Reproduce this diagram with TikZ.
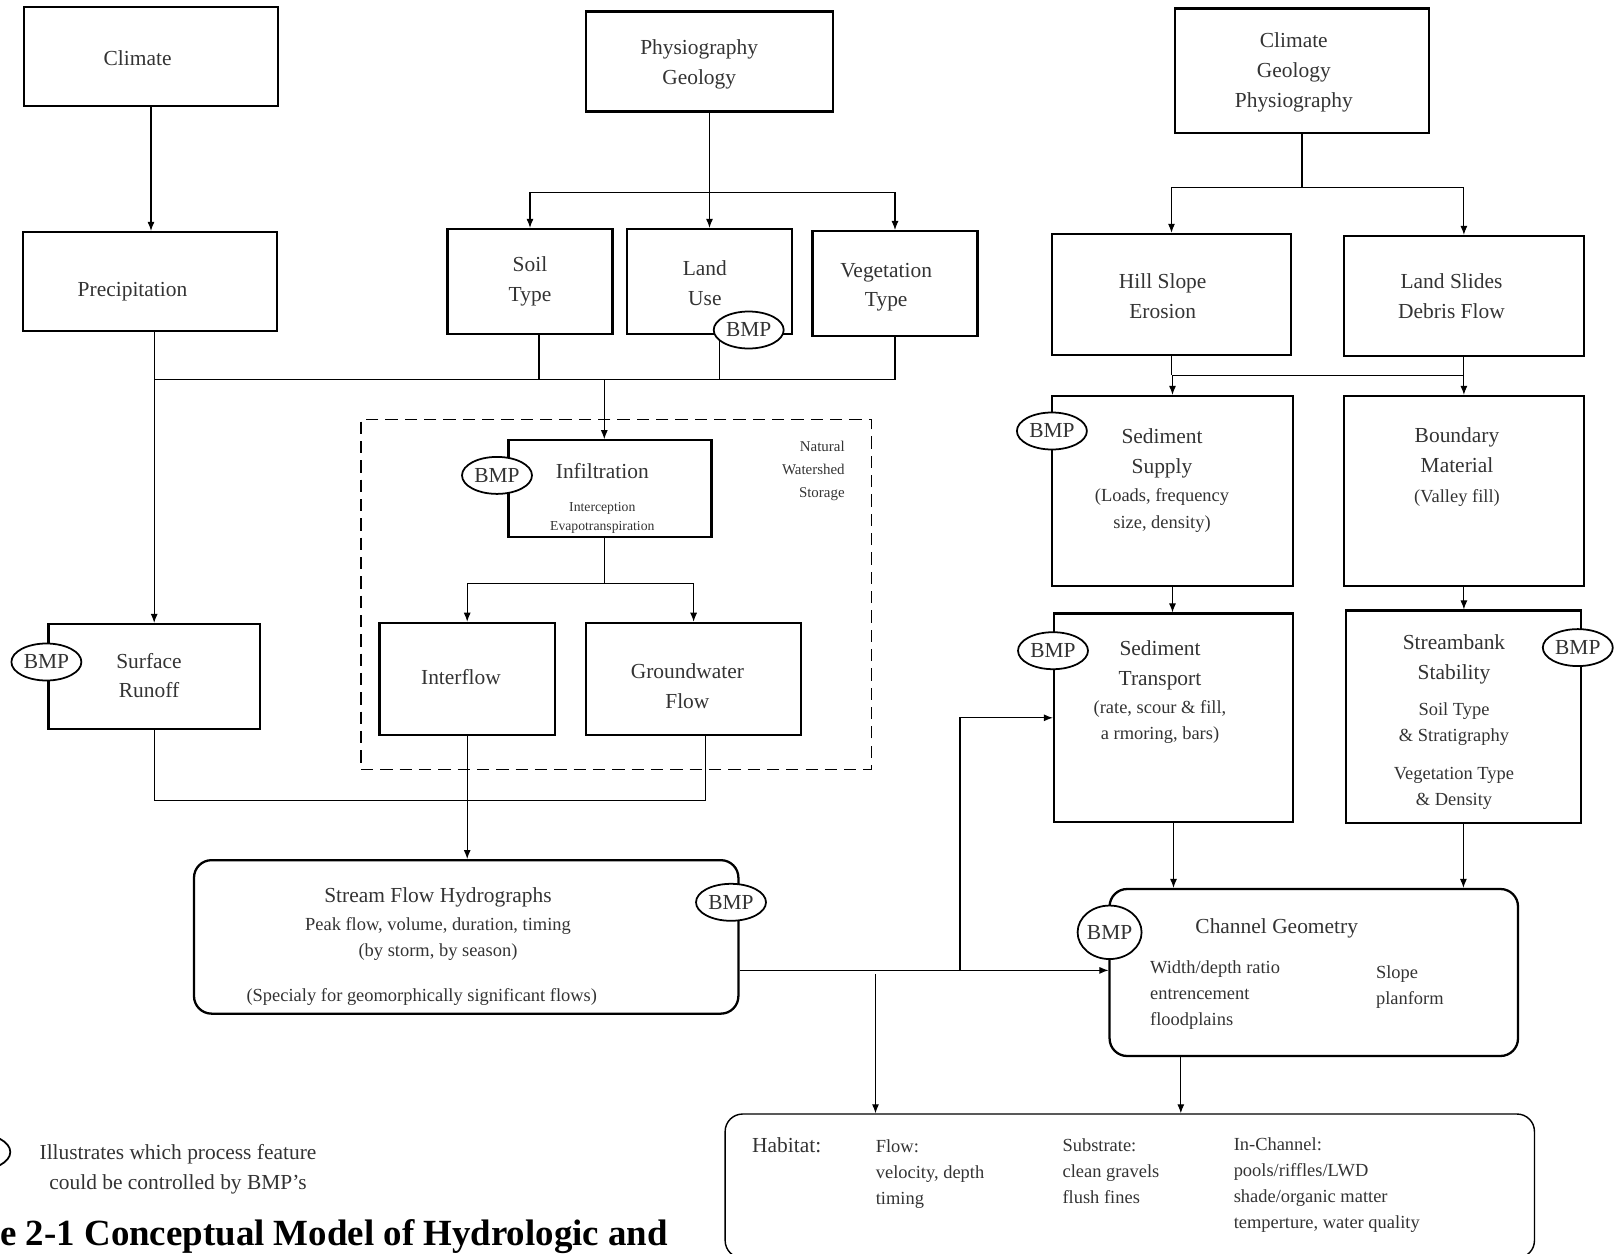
\documentclass[tikz,border=0pt]{standalone}
\usepackage{fontspec}
\setmainfont{Liberation Serif}
\usetikzlibrary{arrows.meta, shapes.geometric}
\newcommand{\mainfs}{\fontsize{12.2}{17}\selectfont}
\newcommand{\subfs}{\fontsize{10.5}{14.8}\selectfont}
\newcommand{\smallfs}{\fontsize{8.5}{13}\selectfont}
\newcommand{\tinyfs}{\fontsize{7.8}{10.5}\selectfont}
\newcommand{\capfs}{\fontsize{21}{25}\selectfont\bfseries}

\tikzset{
  box/.style={draw, line width=1.3pt, inner sep=0pt, align=center, font=\mainfs, text=black!80},
  rbox/.style={box, rounded corners=0.35cm},
  txt/.style={inner sep=0pt, align=center, font=\mainfs, text=black!80},
  bmp/.style={draw, ellipse, line width=1pt, fill=white, inner sep=0pt, minimum width=1.4cm, minimum height=0.74cm, font=\mainfs, text=black!80},
  conn/.style={line width=0.6pt},
}

\begin{document}
\begin{tikzpicture}[x=0.02cm, y=-0.02cm, >={Latex[length=1.8mm, width=1.4mm]}]
  \useasboundingbox (0,0) rectangle (1617,1254);
  \clip (0,0) rectangle (1617,1254);

  \node[box, minimum width=5.09cm, minimum height=1.98cm] (clim) at (151,56.7) {};
  \node[box, minimum width=4.95cm, minimum height=2cm] (phys) at (709.5,61.4) {};
  \node[box, minimum width=5.09cm, minimum height=2.49cm] (climr) at (1302,70.6) {};
  \node[box, minimum width=5.09cm, minimum height=1.98cm] (precip) at (150,281.5) {};
  \node[box, minimum width=3.3cm, minimum height=2.1cm] (soil) at (530,281.5) {Soil\\Type};
  \node[box, minimum width=3.3cm, minimum height=2.1cm] (land) at (709.5,281.5) {};
  \node[box, minimum width=3.3cm, minimum height=2.1cm] (veg) at (895,283.6) {};
  \node[box, minimum width=4.78cm, minimum height=2.42cm] (hill) at (1171.5,294.4) {};
  \node[box, minimum width=4.81cm, minimum height=2.4cm] (slides) at (1463.9,296) {};
  \node[box, minimum width=4.83cm, minimum height=3.8cm] (sedsup) at (1172.5,491) {};
  \node[box, minimum width=4.81cm, minimum height=3.8cm] (bound) at (1463.9,491) {};
  \node[box, minimum width=4.78cm, minimum height=4.17cm] (sedtr) at (1173.5,717.8) {};
  \node[box, minimum width=4.7cm, minimum height=4.25cm] (bank) at (1463.4,716.8) {};
  \node[draw, line width=0.7pt, dash pattern=on 7pt off 4pt, minimum width=10.21cm, minimum height=6.99cm] (store) at (616.2,594.5) {};
  \node[box, minimum width=4.06cm, minimum height=1.94cm] (infil) at (610,488.8) {};
  \node[box, minimum width=3.51cm, minimum height=2.25cm] (inter) at (467.2,679.1) {};
  \node[box, minimum width=4.31cm, minimum height=2.25cm] (ground) at (693.6,679.1) {};
  \node[box, minimum width=4.23cm, minimum height=2.1cm] (runoff) at (154.2,676.5) {};
  \node[rbox, minimum width=10.89cm, minimum height=3.07cm] (hydro) at (466.2,936.9) {};
  \node[rbox, minimum width=8.17cm, minimum height=3.34cm] (geom) at (1313.8,972.5) {};
  \node[rbox, line width=0.8pt, minimum width=16.19cm, minimum height=2.88cm] (habitat) at (1129.8,1186) {};

  \node[txt] (clim-t) at (137.6,57.7) {Climate};
  \node[txt] (phys-t) at (699.2,64.5) {Physiography\\Geology};
  \node[txt] (climr-t) at (1293.8,72.6) {Climate\\Geology\\Physiography};
  \node[txt] (precip-t) at (132.5,291.8) {Precipitation};
  \node[txt] (land-t) at (704.9,283.5) {Land\\Use};
  \node[txt] (veg-t) at (886.2,287.2) {Vegetation\\Type};
  \node[txt] (hill-t) at (1162.7,296.4) {Hill Slope\\Erosion};
  \node[txt] (slides-t) at (1451.5,296) {Land Slides\\Debris Flow};
  \node[txt] (inter-t) at (461,677.1) {Interflow};
  \node[txt] (ground-t) at (687.4,685.8) {Groundwater\\Flow};
  \node[txt] (runoff-t) at (149,675.5) {Surface\\Runoff};
  \node[txt] (sedsup-t) at (1162,480.5) {Sediment\\Supply\\[-1pt]{\subfs (Loads, frequency}\\[-2pt]{\subfs size, density)}};
  \node[txt] (bound-t) at (1457,467) {Boundary\\Material\\{\subfs (Valley fill)}};
  \node[txt] (sedtr-t) at (1160,692) {Sediment\\Transport\\[-1pt]{\subfs (rate, scour \& fill,}\\[-2pt]{\subfs a rmoring, bars)}};
  \node[txt] (bank-t) at (1454,722) {Streambank\\Stability\\[3.5pt]{\subfs Soil Type}\\[-2.2pt]{\subfs \& Stratigraphy}\\[4.6pt]{\subfs Vegetation Type}\\[-2.2pt]{\subfs \& Density}};
  \node[txt] (infil-t) at (602.3,498.5) {Infiltration\\[1.8pt]{\tinyfs Interception}\\[-6.5pt]{\tinyfs Evapotranspiration}};
  \node[txt, font=\smallfs, align=right, anchor=east] (store-t) at (845,471) {Natural\\Watershed\\Storage};
  \node[txt] (hydro-t) at (438,924) {Stream Flow Hydrographs\\[-1.1pt]{\subfs Peak flow, volume, duration, timing}\\[-2.3pt]{\subfs (by storm, by season)}};
  \node[txt, font=\subfs] (hydro-s) at (421.8,997) {(Specialy for geomorphically significant flows)};
  \node[txt] (geom-t) at (1276.7,928) {Channel Geometry};
  \node[txt, font=\subfs, align=left, anchor=west] (geom-l) at (1149.8,995.5) {Width/depth ratio\\entrencement\\floodplains};
  \node[txt, font=\subfs, align=left, anchor=west] (geom-r) at (1375.7,987.5) {Slope\\planform};
  \node[txt, anchor=west] (hab-t) at (751.8,1145) {Habitat:};
  \node[txt, font=\subfs, align=left, anchor=west] (hab-flow) at (875.5,1174) {Flow:\\velocity, depth\\timing};
  \node[txt, font=\subfs, align=left, anchor=west] (hab-sub) at (1062.2,1171.5) {Substrate:\\clean gravels\\flush fines};
  \node[txt, font=\subfs, align=left, anchor=west] (hab-in) at (1233.4,1185) {In-Channel:\\pools/riffles/LWD\\shade/organic matter\\temperture, water quality};
  \node[txt] (leg-t) at (178,1169.5) {Illustrates which process feature\\could be controlled by BMP's};
  \node[inner sep=0pt, anchor=base west, font=\capfs] (cap) at (0,1245) {e 2-1 Conceptual Model of Hydrologic and};

  \coordinate (pj) at (709.5,192.8);
  \coordinate (cj) at (604.3,379.5);
  \coordinate (ij) at (604.3,583.7);
  \coordinate (bj) at (464,800.3);
  \coordinate (rj) at (1302,187.7);
  \coordinate (sj) at (1172.5,375.4);
  \coordinate (hx) at ([yshift=-0.67cm]hydro.east);
  \coordinate (tb) at (960,970.4);
  \coordinate (hb) at (875.5,974);

  \draw[conn, ->] (clim.south) -- (clim.south |- precip.north);
  \draw[conn] (phys.south) -- (pj);
  \draw[conn, ->] (pj) -- (land.north);
  \draw[conn, ->] (pj) -| (soil.north);
  \draw[conn, ->] (pj) -| (veg.north);
  \draw[conn] (runoff.north |- cj) -- (veg.south |- cj);
  \draw[conn, ->] (runoff.north |- precip.south) -- (runoff.north);
  \draw[conn] ([xshift=0.18cm]soil.south) -- ([xshift=0.18cm]soil.south |- cj);
  \draw[conn] ([xshift=0.2cm]land.south) -- ([xshift=0.2cm]land.south |- cj);
  \draw[conn] (veg.south) -- (veg.south |- cj);
  \draw[conn, ->] (cj) -- (cj |- infil.north);
  \draw[conn] (cj |- infil.south) -- (ij);
  \draw[conn, ->] (ij) -| (inter.north);
  \draw[conn, ->] (ij) -| (ground.north);
  \draw[conn] (runoff.south) |- ([xshift=0.24cm]ground.south |- bj) -- ([xshift=0.24cm]ground.south);
  \draw[conn, ->] (inter.south) -- (inter.south |- hydro.north);

  \draw[conn] (climr.south) -- (rj);
  \draw[conn, ->] (rj) -| (hill.north);
  \draw[conn, ->] (rj) -| (slides.north);
  \draw[conn] (hill.south) -- (hill.south |- sj);
  \draw[conn] (slides.south) -- (slides.south |- sj) -- (hill.south |- sj);
  \draw[conn, ->] (sedsup.north |- sj) -- (sedsup.north);
  \draw[conn, ->] (bound.north |- sj) -- (bound.north);
  \draw[conn, ->] (sedsup.south) -- (sedsup.south |- sedtr.north);
  \draw[conn, ->] (bound.south) -- (bound.south |- bank.north);
  \draw[conn, ->] (sedtr.south) -- (sedtr.south |- geom.north);
  \draw[conn, ->] (bank.south) -- (bank.south |- geom.north);
  \draw[conn, ->] (hx) -- (hx -| geom.west);
  \draw[conn, ->] (tb) |- (sedtr.west);
  \draw[conn, ->] (hb) -- (hb |- habitat.north);
  \draw[conn, ->] ([xshift=-2.66cm]geom.south) -- ([xshift=-2.66cm]geom.south |- habitat.north);

  \node[bmp] (bmp-land) at (748.7,330) {BMP};
  \node[bmp] (bmp-infil) at (497,475.4) {BMP};
  \node[bmp] (bmp-runoff) at (46.4,662) {BMP};
  \node[bmp] (bmp-sup) at (1051.9,431) {BMP};
  \node[bmp] (bmp-tr) at (1053,650.7) {BMP};
  \node[bmp] (bmp-bank) at (1577.8,647.6) {BMP};
  \node[bmp] (bmp-hydro) at (731,902.3) {BMP};
  \node[bmp, minimum width=1.24cm, minimum height=1.07cm] (bmp-geom) at (1109.6,932.3) {BMP};
  \node[bmp] (leg) at (-24.7,1152) {};
\end{tikzpicture}
\end{document}
